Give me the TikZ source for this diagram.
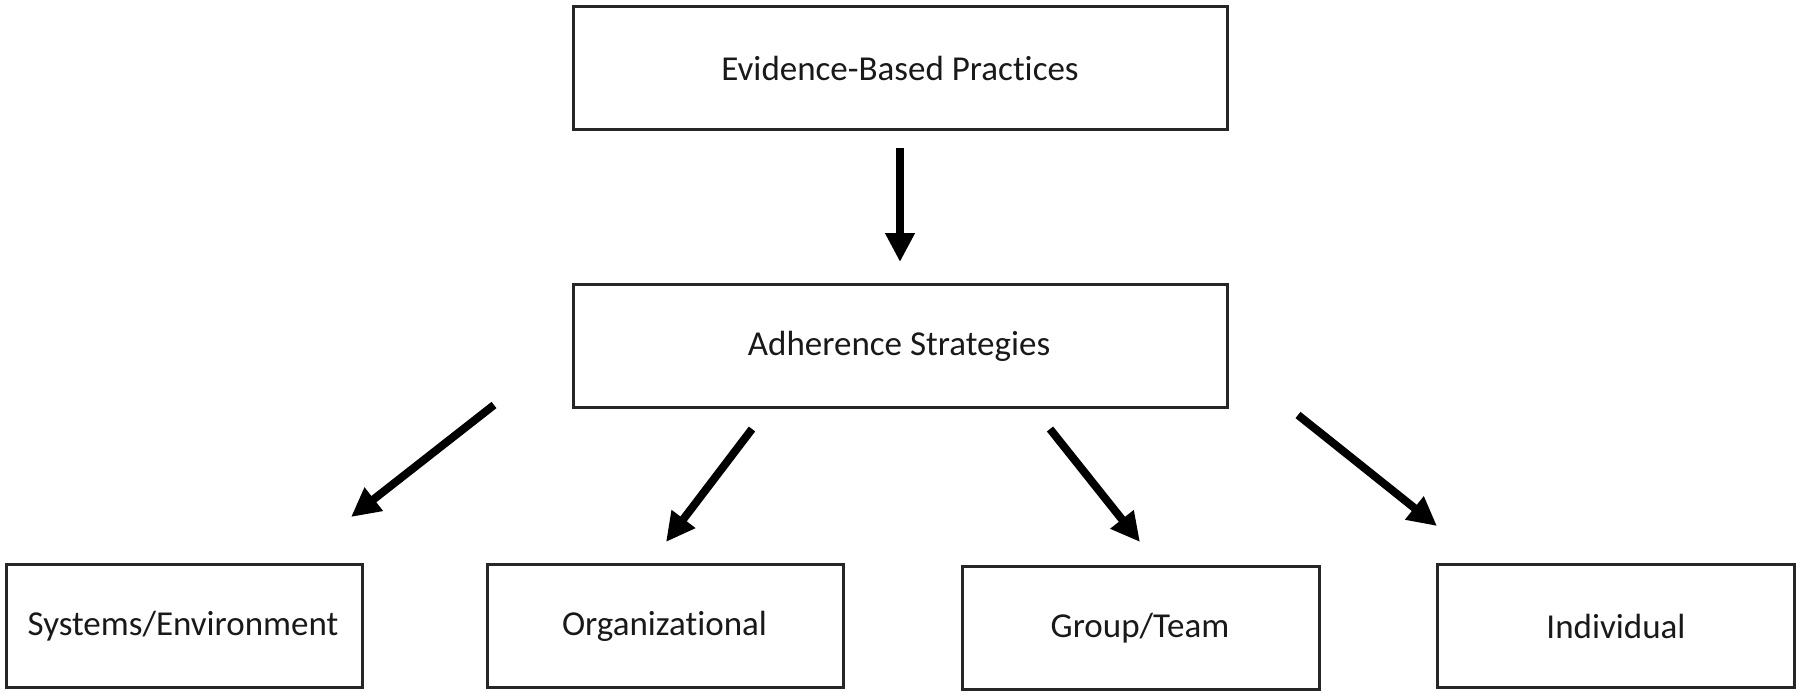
\documentclass[tikz,border=0pt]{standalone}
\usepackage{fontspec}
\setmainfont{Carlito}[Ligatures=NoCommon]
\usetikzlibrary{arrows.meta}
\begin{document}
\begin{tikzpicture}[x=1pt,y=-1pt,
  box/.style={draw=black!85, line width=3pt, minimum height=123pt, inner sep=0pt, fill=white},
  lbl/.style={font=\fontsize{35}{42}\selectfont, text=black!90, inner sep=0pt},
  arr/.style={line width=8pt, -{Triangle[length=29pt,width=28pt]}}
]
\useasboundingbox (0,0) rectangle (1800,697);
% boxes
\node[box, minimum width=654pt] (ebp) at (900,67.5) {};
\node[box, minimum width=654pt] (adh) at (900,345.5) {};
\node[box, minimum width=356pt] (sys) at (184,625.5) {};
\node[box, minimum width=356pt] (org) at (665,625.5) {};
\node[box, minimum width=357pt] (grp) at (1140.5,627.5) {};
\node[box, minimum width=357pt] (ind) at (1615.5,625.5) {};
% labels
\node[lbl] (tebp) at (900,68) {Evidence-Based Practices};
\node[lbl] (tadh) at (899,346) {Adherence Strategies};
\node[lbl] (tsys) at (183,626) {Systems/Environment};
\node[lbl] (torg) at (664.5,626) {Organizational};
\node[lbl] (tgrp) at (1140,628) {Group/Team};
\node[lbl] (tind) at (1616,626) {Individual};
% arrow ends
\coordinate (a0s) at (900,148);
\coordinate (a0e) at (900,262);
\coordinate (a1s) at (494,405);
\coordinate (a1e) at (351,517);
\coordinate (a2s) at (752,429);
\coordinate (a2e) at (666,542);
\coordinate (a3s) at (1050,429);
\coordinate (a3e) at (1140,542);
\coordinate (a4s) at (1298,415);
\coordinate (a4e) at (1437,526);
\draw[arr] (a0s) -- (a0e);
\draw[arr] (a1s) -- (a1e);
\draw[arr] (a2s) -- (a2e);
\draw[arr] (a3s) -- (a3e);
\draw[arr] (a4s) -- (a4e);
\end{tikzpicture}
\end{document}
